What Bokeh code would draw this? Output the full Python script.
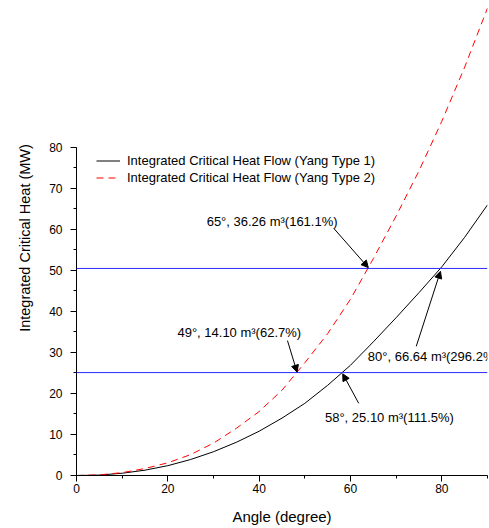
from bokeh.plotting import figure
from bokeh.models import Range1d, SingleIntervalTicker, Span, Arrow, NormalHead
from bokeh.embed import file_html
from bokeh.resources import INLINE
from bokeh.core.properties import value

# ---- data ----
angle = [0, 5, 10, 15, 20, 25, 30, 35, 40, 45, 50, 55, 60, 65, 70, 75, 80, 85, 90]
heat_type1 = [0, 0.1, 0.55, 1.3, 2.4, 3.9, 5.8, 8.1, 10.8, 14.0, 17.6, 22.0, 26.9,
              32.6, 38.5, 44.6, 50.9, 58.1, 66.0]
heat_type2 = [0, 0.15, 0.7, 1.7, 3.1, 5.1, 7.9, 11.5, 15.6, 20.8, 27.5, 34.6, 43.0,
              52.9, 63.3, 74.3, 86.4, 99.6, 114.0]
levels = [50.5, 25.1]

series_names = ["Integrated Critical Heat Flow (Yang Type 1)",
                "Integrated Critical Heat Flow (Yang Type 2)"]

ann_labels = ["65°, 36.26 m³(161.1%)", "49°, 14.10 m³(62.7%)",
              "80°, 66.64 m³(296.2%)", "58°, 25.10 m³(111.5%)"]
ann_text_x = [28.5, 22.1, 63.8, 54.4]
ann_text_y = [62.0, 34.95, 29.0, 14.2]
arrow_x0 = [56.4, 46.2, 74.4, 61.8]
arrow_y0 = [60.2, 32.9, 31.5, 17.6]
arrow_x1 = [63.9, 48.3, 79.7, 58.3]
arrow_y1 = [50.7, 25.2, 49.8, 24.8]

FONT = "Liberation Sans"

p = figure(frame_width=411, frame_height=475,
           x_range=Range1d(0, 90), y_range=Range1d(0, 115.85),
           output_backend="svg", toolbar_location=None,
           min_border_left=76, min_border_right=2, min_border_top=0,
           min_border_bottom=53, background_fill_color="white",
           border_fill_color="white")
p.outline_line_color = None
p.grid.visible = False

for lv in levels:
    p.add_layout(Span(location=lv, dimension="width", line_color="#2a2aff", line_width=1))

p.line(angle, heat_type1, line_color="black", line_width=1, legend_label=series_names[0])
p.line(angle, heat_type2, line_color="red", line_width=1, line_dash="7 5",
       legend_label=series_names[1])

p.text(x=ann_text_x, y=ann_text_y, text=ann_labels, text_font=value(FONT),
       text_font_size="13px", text_align="left", text_baseline="middle",
       text_color="black")

for x0, y0, x1, y1 in zip(arrow_x0, arrow_y0, arrow_x1, arrow_y1):
    p.add_layout(Arrow(x_start=x0, y_start=y0, x_end=x1, y_end=y1,
                       line_color="black", line_width=1,
                       end=NormalHead(size=7, fill_color="black", line_color="black",
                                      line_width=1)))

p.xaxis.ticker = SingleIntervalTicker(interval=20, num_minor_ticks=2)
p.yaxis.ticker = SingleIntervalTicker(interval=10, num_minor_ticks=2)
p.yaxis.bounds = (0, 80)
p.xaxis.axis_label = "Angle (degree)"
p.yaxis.axis_label = "Integrated Critical Heat (MW)"

for ax in (p.xaxis, p.yaxis):
    ax.axis_line_color = "black"
    ax.axis_line_width = 1
    ax.major_tick_line_color = "black"
    ax.minor_tick_line_color = "black"
    ax.major_tick_out = 6
    ax.major_tick_in = 0
    ax.minor_tick_out = 3
    ax.minor_tick_in = 0
    ax.major_label_text_font = FONT
    ax.major_label_text_font_size = "12px"
    ax.major_label_text_color = "black"
    ax.axis_label_text_font = FONT
    ax.axis_label_text_font_style = "normal"
    ax.axis_label_text_color = "black"

p.xaxis.axis_label_text_font_size = "15px"
p.yaxis.axis_label_text_font_size = "14.5px"
p.xaxis.major_label_standoff = 2
p.xaxis.axis_label_standoff = 12
p.yaxis.major_label_standoff = 8
p.yaxis.axis_label_standoff = 13

lg = p.legend[0]
lg.location = (20, 289)
lg.padding = 0
lg.margin = 0
lg.spacing = 0
lg.label_height = 17
lg.glyph_height = 17
lg.glyph_width = 24
lg.label_standoff = 7
lg.border_line_color = None
lg.background_fill_alpha = 0
lg.label_text_font = FONT
lg.label_text_font_size = "13px"
lg.label_text_color = "black"

open("out.html", "w").write(file_html(p, INLINE))
